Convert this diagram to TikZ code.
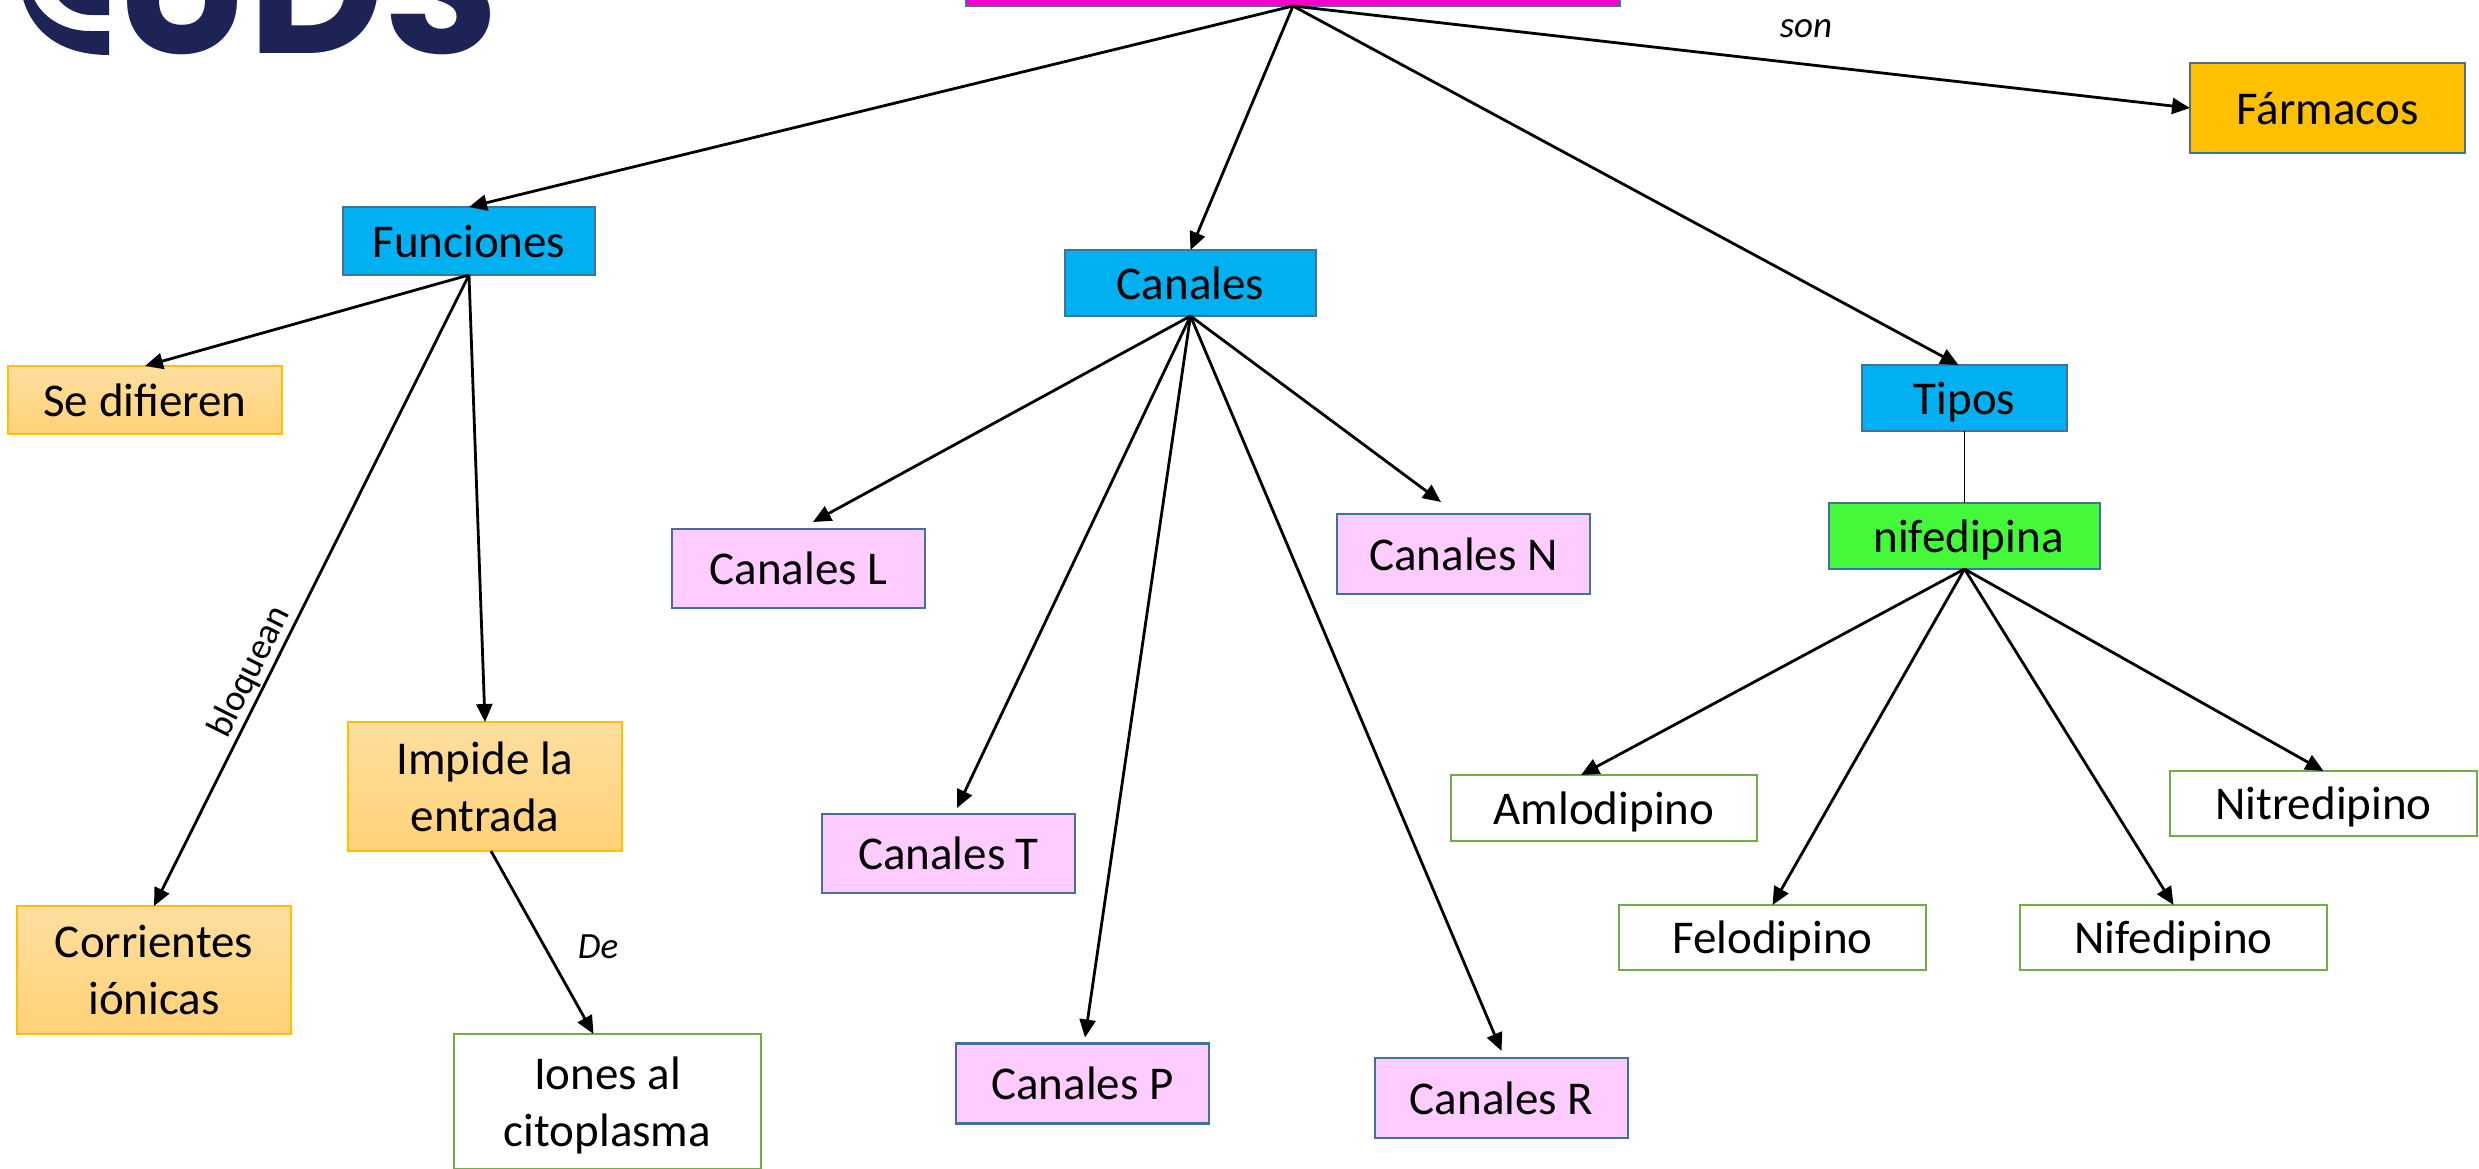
\documentclass[tikz,border=0pt]{standalone}
\usepackage{fontspec}
\setmainfont{Carlito}
\newfontfamily\logofont{Poppins}
\usetikzlibrary{arrows.meta}
\definecolor{bluefill}{HTML}{00B0F0}
\definecolor{boxedge}{HTML}{41719C}
\definecolor{yellowtop}{HTML}{FFDE9E}
\definecolor{yellowbot}{HTML}{FFD278}
\definecolor{yellowedge}{HTML}{FFC000}
\definecolor{pinkfill}{HTML}{FFCCFF}
\definecolor{greenedge}{HTML}{70AD47}
\definecolor{limefill}{HTML}{44F93A}
\definecolor{magentafill}{HTML}{F000C8}
\definecolor{orangefill}{HTML}{FFC000}
\definecolor{logonavy}{HTML}{1E2355}
\newcommand{\pairlines}[2]{\rule{0pt}{44pt}#1\\#2\rule[-12pt]{0pt}{12pt}}
\tikzset{
  boxbase/.style={rectangle,inner sep=0pt,outer sep=0pt,align=center,line width=2.7pt,
    font=\fontsize{47}{57}\selectfont},
  oneline/.style={text height=34pt,text depth=2pt},
  bluebox/.style={boxbase,oneline,draw=boxedge,fill=bluefill},
  pinkbox/.style={boxbase,oneline,draw=boxedge,fill=pinkfill},
  limebox/.style={boxbase,oneline,draw=boxedge,fill=limefill},
  orangebox/.style={boxbase,oneline,draw=boxedge,fill=orangefill},
  magentabox/.style={boxbase,draw=boxedge,fill=magentafill},
  yellowbox/.style={boxbase,draw=yellowedge,top color=yellowtop,bottom color=yellowbot},
  greenbox/.style={boxbase,draw=greenedge,fill=white},
  linkarrow/.style={line width=2.8pt,-{Triangle[length=18pt,width=16pt]}},
  plainlink/.style={line width=1.6pt},
  linklabel/.style={inner sep=0pt,font=\fontsize{37}{40}\selectfont},
  logotext/.style={inner sep=0pt,anchor=base west,text=logonavy,font=\logofont\bfseries\fontsize{187}{187}\selectfont}
}
\begin{document}
\begin{tikzpicture}[x=1pt,y=-1pt]
\useasboundingbox (0,0) rectangle (2479,1168);
\clip (0,0) rectangle (2479,1168);
\fill[white] (0,0) rectangle (2479,1168);
% logo
\fill[logonavy] (23,-1) .. controls (34,36) and (65,55) .. (109,55) -- (109,31) -- (90,31) .. controls (62,31) and (42,16) .. (34,-1) -- cycle;
\fill[logonavy] (58,-1) .. controls (66,9) and (78,15) .. (92,15) -- (109,15) -- (109,-1) -- cycle;
\node[logotext] (logo) at (116,53) {UDS};
% boxes
\node[magentabox,minimum width=654pt,minimum height=36pt] (top) at (1293,-12) {};
\node[bluebox,minimum width=252pt,minimum height=68pt] (fun) at (469,241) {Funciones};
\node[bluebox,minimum width=251pt,minimum height=66pt] (can) at (1190.5,283) {Canales};
\node[bluebox,minimum width=205pt,minimum height=66pt] (tip) at (1964.5,398) {Tipos};
\node[limebox,minimum width=271pt,minimum height=66pt] (nif) at (1964.5,536) {\hspace*{8pt}nifedipina};
\node[orangebox,minimum width=275pt,minimum height=90pt] (far) at (2327.5,108) {Fármacos};
\node[yellowbox,oneline,minimum width=274pt,minimum height=68pt] (sed) at (145,400) {Se difieren};
\node[yellowbox,minimum width=274pt,minimum height=129pt] (imp) at (485,786.5) {\pairlines{Impide la}{entrada}};
\node[yellowbox,minimum width=274pt,minimum height=128pt] (cor) at (154,970) {\pairlines{Corrientes}{iónicas}};
\node[greenbox,minimum width=307pt,minimum height=135pt] (ion) at (607.5,1101.5) {\pairlines{Iones al}{citoplasma}};
\node[pinkbox,minimum width=253pt,minimum height=79pt] (cl) at (798.5,568.5) {Canales L};
\node[pinkbox,minimum width=253pt,minimum height=80pt] (cn) at (1463.5,554) {Canales N};
\node[pinkbox,minimum width=253pt,minimum height=79pt] (ct) at (948.5,853.5) {Canales T};
\node[pinkbox,minimum width=253pt,minimum height=80pt] (cp) at (1082.5,1083.5) {Canales P};
\node[pinkbox,minimum width=253pt,minimum height=80pt] (cr) at (1501.5,1098) {Canales R};
\node[greenbox,oneline,minimum width=306pt,minimum height=66pt] (aml) at (1604,808) {Amlodipino};
\node[greenbox,oneline,minimum width=307pt,minimum height=65pt] (fel) at (1772.5,937.5) {Felodipino};
\node[greenbox,oneline,minimum width=307pt,minimum height=65pt] (nfd) at (2173.5,937.5) {Nifedipino};
\node[greenbox,oneline,minimum width=307pt,minimum height=65pt] (nit) at (2323.5,803.5) {Nitredipino};
% connectors
\draw[linkarrow] (top.south) -- (fun.north);
\draw[linkarrow] (top.south) -- (can.north);
\draw[linkarrow] (top.south) -- ([xshift=-6pt]tip.north);
\draw[linkarrow] (top.south) -- (far.west);
\draw[linkarrow] (fun.south) -- (sed.north);
\draw[linkarrow] (fun.south) -- (cor.north);
\draw[linkarrow] (fun.south) -- (imp.north);
\draw[linkarrow] ([xshift=6pt]imp.south) -- ([xshift=-14pt]ion.north);
\draw[linkarrow] (can.south) -- ([xshift=14.5pt,yshift=7pt]cl.north);
\draw[linkarrow] (can.south) -- ([xshift=-22.5pt,yshift=12pt]cn.north);
\draw[linkarrow] (can.south) -- ([xshift=8.5pt,yshift=6pt]ct.north);
\draw[linkarrow] (can.south) -- ([xshift=2.5pt,yshift=6pt]cp.north);
\draw[linkarrow] (can.south) -- ([yshift=7pt]cr.north);
\draw[plainlink] (tip.south) -- (nif.north);
\draw[linkarrow] (nif.south) -- ([xshift=-23pt]aml.north);
\draw[linkarrow] (nif.south) -- (fel.north);
\draw[linkarrow] (nif.south) -- (nfd.north);
\draw[linkarrow] (nif.south) -- (nit.north);
% labels
\node[linklabel] (lson) at (1806,29) {\itshape son};
\node[linklabel,rotate=63.4] (lblo) at (250,672) {bloquean};
\node[linklabel] (lde) at (598,947) {\itshape De};
\end{tikzpicture}
\end{document}
